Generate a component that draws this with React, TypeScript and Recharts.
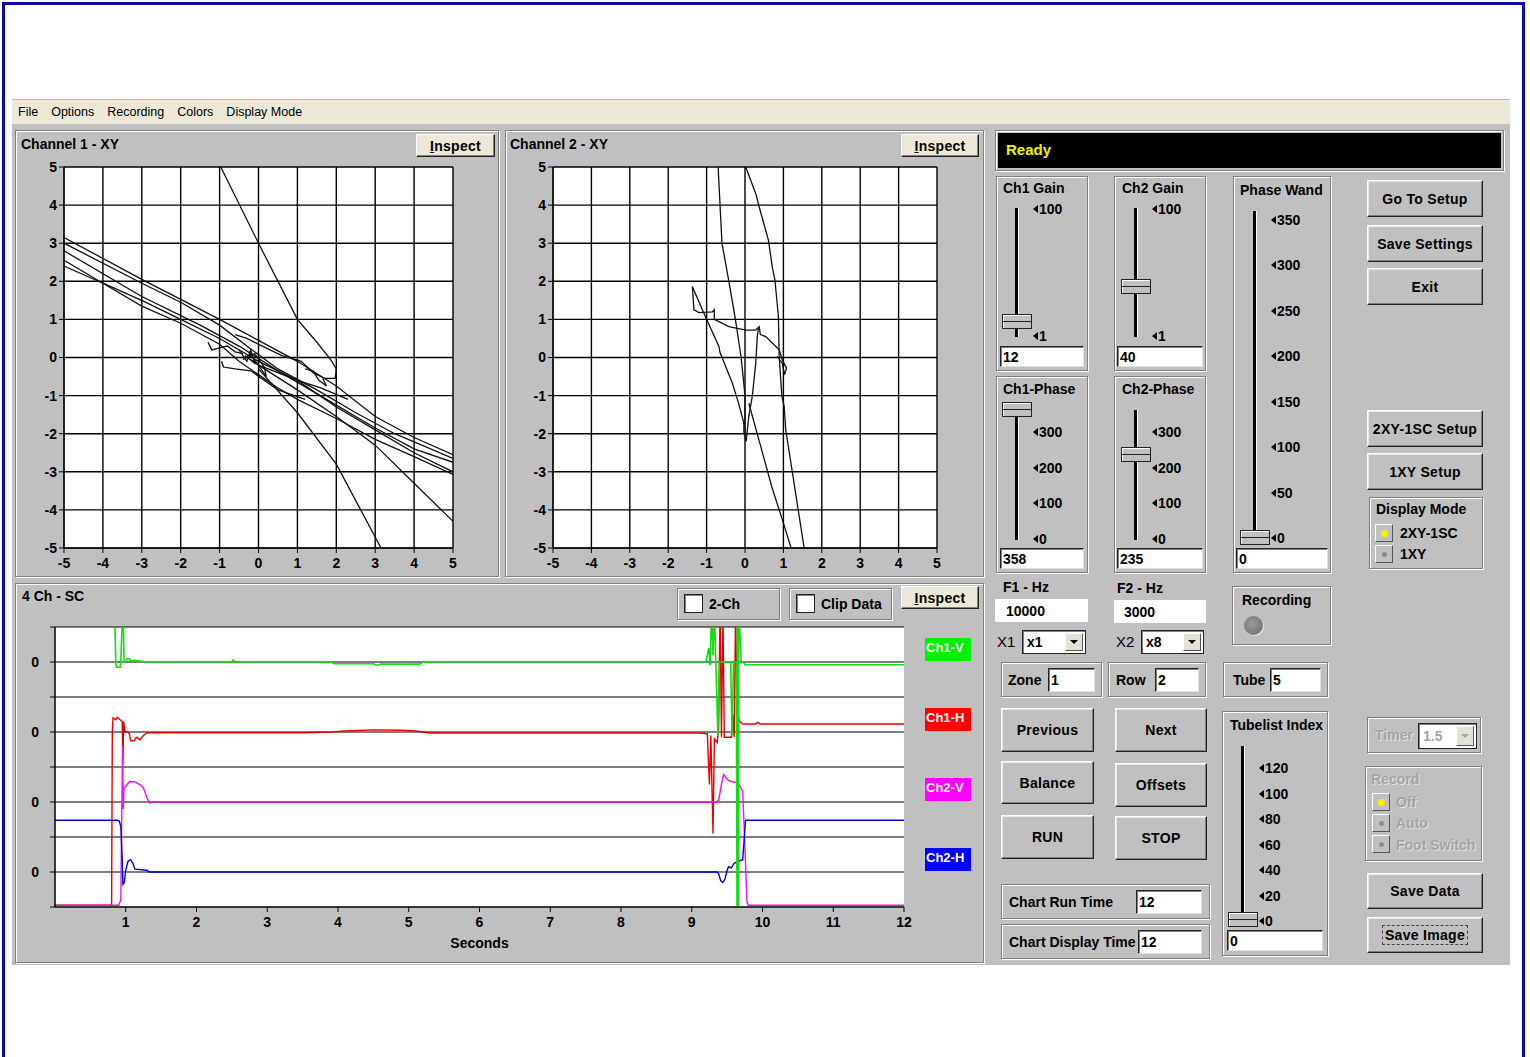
import React from 'react';
import { LineChart, Line, XAxis, YAxis, CartesianGrid, Label } from 'recharts';

// ---------- Channel 1 XY traces (x, y pairs in volts) ----------
const ch1Sweep = [[-0.97, 5], [0, 3], [1, 1], [1.5, 0.4], [1.85, -0.05], [2, -0.3], [1.97, -0.55], [1.7, -0.55], [1.4, -0.4], [1.1, -0.1], [0.6, 0.05], [0.1, 0.3], [-0.3, 0.5], [-0.6, 0.6]];
const ch1DiagA = [[-5, 3.15], [-3, 2.05], [-1, 1.0], [0, 0.45], [1, -0.1], [2, -0.75], [3, -1.55], [4, -2.1], [5, -2.55]];
const ch1DiagB = [[-5, 3.0], [-3, 1.95], [-2, 1.45], [-1, 0.85], [-0.3, 0.3], [0.5, -0.3], [1.5, -0.85], [2.5, -1.45], [3.5, -2.0], [5, -2.65]];
const ch1DiagC = [[-5, 2.8], [-3, 1.6], [-1.5, 0.85], [-0.5, 0.3], [0.5, -0.35], [2, -1.25], [3, -1.85], [4, -2.4], [5, -2.75]];
const ch1DiagD = [[-5, 2.55], [-4, 1.95], [-3, 1.5], [-2, 1.0], [-1, 0.5], [0, -0.1], [1, -0.6], [2, -1.3], [3, -1.9], [4, -2.5], [5, -3.0]];
const ch1DiagE = [[-5, 2.4], [-4, 1.95], [-3, 1.35], [-2, 0.9], [-1, 0.35], [-0.5, -0.1], [0, -0.45], [0.5, -0.8], [1, -1.1], [2, -1.6], [3, -2.15], [4, -2.6], [5, -3.07]];
const ch1SteepB = [[0, -0.3], [1, -1.45], [2, -2.8], [3.15, -5]];
const ch1SteepC = [[0, -0.2], [1, -0.85], [2, -1.55], [3, -2.3], [4, -3.3], [5, -4.3]];
const ch1Tail = [[0, -0.2], [1, -0.6], [1.6, -0.8], [2.3, -1.1]];
const ch1Knot = [[-0.5, 0.2], [-0.3, -0.1], [-0.2, 0.2], [-0.1, -0.15], [-0.35, 0.05], [0, -0.2], [-0.25, 0.15], [0.1, -0.35], [0.2, -0.5], [0.15, -0.25], [-0.1, 0.1], [-0.4, -0.05], [-0.2, 0.1]];
const ch1Hook = [[-1.3, 0.4], [-1.2, 0.2], [-1.0, 0.25], [-0.8, 0.3], [-0.6, 0.15], [-0.4, 0.1]];
const ch1Under = [[-0.95, -0.1], [-0.9, -0.25], [-0.6, -0.3], [-0.2, -0.35], [0.5, -0.85], [1.2, -1.1]];
const ch1Curl = [[1.2, -0.3], [1.4, -0.35], [1.55, -0.6], [1.75, -0.75], [1.65, -0.55]];

// ---------- Channel 2 XY traces ----------
const ch2DropA = [[-0.7, 5], [-0.6, 3], [-0.42, 2], [-0.25, 1], [-0.1, 0], [0, -1], [0, -2]];
const ch2DropB = [[0.1, -1.2], [0.4, -2.3], [0.7, -3.4], [0.97, -4.25], [1.2, -5]];
const ch2Arc = [[0.02, 5], [0.28, 4.3], [0.37, 3.95], [0.61, 3.08], [0.71, 2.38], [0.78, 2.03], [0.87, 1.07], [0.89, 0.03], [0.96, -1.02], [1.02, -1.28], [1.06, -1.89], [1.54, -5]];
const ch2Wander = [[-1.37, 1.86], [-1.33, 1.25], [-1.2, 1.18], [-0.85, 1.2], [-0.8, 1.25], [-0.8, 1.0], [-0.42, 0.81], [0.02, 0.72], [0.28, 0.72], [0.37, 0.81], [0.4, 0.6], [0.54, 0.55], [0.89, 0.2], [0.97, -0.06], [1.08, -0.28], [1.03, -0.45], [0.97, -0.15], [0.84, 0.03]];
const ch2Return = [[-1.37, 1.86], [-1.03, 1.07], [-0.68, 0.29], [-0.65, 0.13], [-0.33, -0.67], [-0.17, -1.19], [-0.03, -1.72], [-0.03, -1.98], [0.03, -2.2], [0.1, -1.54], [0.19, -1.02], [0.28, -0.15], [0.32, 0.55], [0.35, 0.77]];

const xyTicks = [-5, -4, -3, -2, -1, 0, 1, 2, 3, 4, 5];

// ---------- Strip chart, 4 channels: [seconds, value relative to channel zero] ----------
const ch1V = [[0, 1.5], [0.84, 1.5], [0.86, -0.05], [0.87, -0.15], [0.92, -0.15], [0.93, -0.02], [0.955, 1.5], [0.965, 1.5], [0.975, 0], [1.0, 0], [1.02, 0.1], [1.05, 0.1], [1.07, 0.03], [1.12, 0.05], [1.2, 0.03], [1.3, 0], [2.5, 0], [2.52, 0.06], [2.54, 0], [3.9, 0], [3.95, -0.05], [4.5, -0.05], [4.55, -0.1], [4.6, -0.06], [5.15, -0.06], [5.2, 0], [9.2, 0], [9.24, 0.4], [9.26, -0.1], [9.28, 1.5], [9.3, 0.2], [9.32, 1.5], [9.34, 0], [9.37, -2.1], [9.39, 0], [9.55, 0], [9.57, -2.1], [9.59, 0], [9.63, 0], [9.64, -7.5], [9.645, 1.5], [9.65, -7.5], [9.655, 1.5], [9.66, -7.5], [9.665, 1.5], [9.7, 0], [9.73, 0], [9.75, -0.08], [12, -0.08]];
const ch1H = [[0, -4.95], [0.8, -4.95], [0.81, 0], [0.82, 0.4], [0.86, 0.35], [0.88, 0.42], [0.92, 0.35], [0.95, 0.3], [0.96, -0.9], [0.97, 0.3], [0.99, 0], [1.03, 0], [1.05, -0.05], [1.07, -0.25], [1.12, -0.25], [1.15, -0.15], [1.2, -0.22], [1.25, -0.1], [1.3, -0.02], [2, -0.02], [3.5, -0.02], [3.9, 0], [4.1, 0.03], [4.5, 0.06], [4.9, 0.05], [5.1, 0.03], [5.3, -0.03], [9.1, -0.03], [9.22, -0.05], [9.25, -1.5], [9.27, -0.1], [9.3, -2.9], [9.32, -0.2], [9.36, -0.3], [9.38, 0.1], [9.4, 3.5], [9.42, -0.15], [9.44, 3.5], [9.46, -0.15], [9.56, -0.15], [9.58, 0.5], [9.6, -0.15], [9.62, 3.5], [9.64, 0.5], [9.68, 0.3], [9.72, 0.23], [9.9, 0.23], [9.93, 0.27], [9.97, 0.23], [12, 0.23]];
const ch2V = [[0, -2.95], [0.9, -2.95], [0.93, -2.8], [0.955, 1.6], [0.965, -0.2], [0.975, 0.4], [1.0, 0.45], [1.05, 0.58], [1.12, 0.58], [1.2, 0.5], [1.25, 0.4], [1.3, 0.12], [1.34, -0.03], [1.37, 0], [9.35, 0], [9.38, 0.05], [9.42, 0.5], [9.45, 0.78], [9.5, 0.65], [9.53, 0.6], [9.58, 0.58], [9.65, 0.55], [9.69, 0.42], [9.72, 0.3], [9.75, -1.2], [9.78, -2.85], [9.8, -2.95], [12, -2.95]];
const ch2H = [[0, 1.48], [0.88, 1.48], [0.91, 1.45], [0.93, 1.3], [0.95, 0.4], [0.96, -0.35], [0.98, -0.3], [1.0, 0.05], [1.03, 0.3], [1.07, 0.35], [1.1, 0.25], [1.13, 0.08], [1.3, 0.05], [1.33, 0], [9.36, 0], [9.38, -0.05], [9.41, -0.25], [9.44, -0.3], [9.47, -0.2], [9.5, 0.05], [9.52, 0.15], [9.56, 0.12], [9.6, 0.25], [9.65, 0.3], [9.72, 0.35], [9.74, 0.9], [9.76, 1.48], [12, 1.48]];

const channelNames = ['Ch1-V', 'Ch1-H', 'Ch2-V', 'Ch2-H'];
const channelColors = ['#12dd12', '#e80000', '#f010f0', '#0000d0'];
const legendColors = ['#00f000', '#ff0000', '#ff00ff', '#0000ff'];
const channelZero = [7, 5, 3, 1];
const channelTraces = [ch1V, ch1H, ch2V, ch2H];
const stripTicksX = [1, 2, 3, 4, 5, 6, 7, 8, 9, 10, 11, 12];
const stripTicksY = [0, 1, 2, 3, 4, 5, 6, 7, 8];

// slider scales
const gainScale = ['100', '1'];
const phaseScale = ['300', '200', '100', '0'];
const wandScale = ['350', '300', '250', '200', '150', '100', '50', '0'];
const tubeScale = ['120', '100', '80', '60', '40', '20', '0'];
const menuItems = ['File', 'Options', 'Recording', 'Colors', 'Display Mode'];

const FONT = '"Liberation Sans", Arial, sans-serif';
const GRAY = '#c0c0c0';
const DIM = '#a4a4a4';

const box = (x: number, y: number, x2: number, y2: number): React.CSSProperties => ({
  position: 'absolute', left: x, top: y, width: x2 - x, height: y2 - y, boxSizing: 'border-box',
});

const T = ({ x, y, children, size = 14, color = '#000', bold = true, dim = false }: any) => (
  <div style={{
    position: 'absolute', left: x, top: y - 9, height: 18, lineHeight: '18px', whiteSpace: 'nowrap',
    fontFamily: FONT, fontSize: size, fontWeight: bold ? 700 : 400, color: dim ? DIM : color,
    textShadow: dim ? '1px 1px 0 #e4e4e4' : undefined,
  }}>{children}</div>
);

const Groove = ({ r }: { r: number[] }) => (
  <div style={{ ...box(r[0], r[1], r[2], r[3]), border: '1px solid #808080', boxShadow: '1px 1px 0 #fff, inset 1px 1px 0 #fff' }} />
);

const Btn = ({ r, children, bg = GRAY, focus = false, size = 14 }: any) => (
  <div style={{
    ...box(r[0], r[1], r[2], r[3]), background: bg, borderStyle: 'solid', borderWidth: 1,
    borderColor: '#fff #222 #222 #fff', boxShadow: 'inset -1px -1px 0 #808080, inset 1px 1px 0 #e8e8e8',
    display: 'flex', alignItems: 'center', justifyContent: 'center',
    fontFamily: FONT, fontWeight: 700, fontSize: size, letterSpacing: 0.3,
  }}>
    {focus ? <span style={{ border: '1px dashed #444', padding: '1px 2px' }}>{children}</span> : children}
  </div>
);

const Field = ({ r, value, flat = false, pad = 2 }: any) => (
  <div style={{
    ...box(r[0], r[1], r[2], r[3]), background: '#fff', display: 'flex', alignItems: 'center', paddingLeft: pad,
    borderStyle: 'solid', borderWidth: flat ? 0 : 1, borderColor: '#222 #e0e0e0 #e0e0e0 #222',
    boxShadow: flat ? 'none' : 'inset 1px 1px 0 #808080',
    fontFamily: FONT, fontWeight: 700, fontSize: 14,
  }}>{value}</div>
);

const Combo = ({ r, value, dim = false }: any) => (
  <div style={{
    ...box(r[0], r[1], r[2], r[3]), background: '#fff', border: '1px solid #222',
    boxShadow: 'inset 1px 1px 0 #808080', fontFamily: FONT, fontWeight: 700, fontSize: 14,
    color: dim ? DIM : '#000', paddingLeft: 4, display: 'flex', alignItems: 'center',
  }}>
    {value}
    <div style={{
      position: 'absolute', right: 2, top: 2, bottom: 2, width: 16, background: '#e4e2d8',
      borderStyle: 'solid', borderWidth: 1, borderColor: '#fff #555 #555 #fff',
      display: 'flex', alignItems: 'center', justifyContent: 'center',
    }}>
      <div style={{ width: 0, height: 0, borderLeft: '4px solid transparent', borderRight: '4px solid transparent', borderTop: `4px solid ${dim ? DIM : '#000'}` }} />
    </div>
  </div>
);

const Mark = ({ x, y, label }: any) => (
  <>
    <div style={{ position: 'absolute', left: x - 1, top: y - 4, width: 0, height: 0, borderTop: '4px solid transparent', borderBottom: '4px solid transparent', borderRight: '5px solid #000' }} />
    <T x={x + 5} y={y}>{label}</T>
  </>
);

// vertical trackbar: centre x, track ends, thumb centre, scale labels spread between sy1 and sy2
const Slider = ({ cx, y1, y2, thumb, scale, tx, sy1, sy2 }: any) => (
  <>
    <div style={{ ...box(cx - 2, y1, cx + 2, y2), background: '#000', borderRight: '1px solid #fff' }} />
    <div style={{ ...box(cx - 15, thumb - 7, cx + 15, thumb + 8), background: GRAY, border: '1px solid #222', boxShadow: 'inset 1px 1px 0 #fff' }}>
      <div style={{ position: 'absolute', left: 0, right: 0, top: 6, height: 1, background: '#222' }} />
    </div>
    {scale.map((s: string, i: number) => (
      <Mark key={s} x={tx} y={sy1 + (scale.length > 1 ? (i * (sy2 - sy1)) / (scale.length - 1) : 0)} label={s} />
    ))}
  </>
);

const Radio = ({ x, y, on, dim = false }: any) => (
  <div style={{
    ...box(x, y, x + 18, y + 18), background: GRAY, borderStyle: 'solid', borderWidth: 1,
    borderColor: '#fff #555 #555 #fff', display: 'flex', alignItems: 'center', justifyContent: 'center',
  }}>
    <div style={{ width: on ? 7 : 5, height: on ? 7 : 5, borderRadius: '50%', background: on ? '#f4f400' : dim ? '#8c8c8c' : '#888' }} />
  </div>
);

const Check = ({ r, label }: any) => (
  <>
    <Groove r={r} />
    <div style={{ ...box(r[0] + 7, r[1] + 6, r[0] + 26, r[1] + 25), background: '#fff', border: '1px solid #222', boxShadow: 'inset 1px 1px 0 #808080' }} />
    <T x={r[0] + 32} y={r[1] + 16}>{label}</T>
  </>
);

const tickFont = { fill: '#000', fontSize: 14, fontWeight: 700, fontFamily: FONT };

const toXY = (pts: number[][]) => pts.map(([x, y]) => ({ x, y }));

const XYPlot = ({ left, width, traces }: { left: number; width: number; traces: number[][][] }) => (
  <div style={{ position: 'absolute', left, top: 160 }}>
    <LineChart width={width} height={416} margin={{ top: 7, right: 10, left: 6, bottom: 0 }}>
      <CartesianGrid stroke="#000" strokeWidth={1.4} fill="#fff" fillOpacity={1} />
      <XAxis type="number" dataKey="x" domain={[-5, 5]} ticks={xyTicks} interval={0} allowDataOverflow height={28}
        tick={tickFont} tickSize={5} tickMargin={5} axisLine={{ stroke: '#000' }} tickLine={{ stroke: '#000' }} />
      <YAxis type="number" dataKey="y" domain={[-5, 5]} ticks={xyTicks} interval={0} allowDataOverflow width={40}
        tick={tickFont} tickSize={5} tickMargin={2} axisLine={{ stroke: '#000' }} tickLine={{ stroke: '#000' }} />
      {traces.map((t, i) => (
        <Line key={i} data={toXY(t)} dataKey="y" type="linear" stroke="#111" strokeWidth={1.3}
          dot={false} activeDot={false} isAnimationActive={false} />
      ))}
    </LineChart>
  </div>
);

const StripChart = () => (
  <div style={{ position: 'absolute', left: 12, top: 620 }}>
    <LineChart width={900} height={332} margin={{ top: 7, right: 8, left: 7, bottom: 0 }}>
      <CartesianGrid stroke="#000" strokeWidth={1.2} vertical={false} fill="#fff" fillOpacity={1} />
      <XAxis type="number" dataKey="t" domain={[0, 12]} ticks={stripTicksX} interval={0} allowDataOverflow height={45}
        tick={tickFont} tickSize={5} tickMargin={5} axisLine={{ stroke: '#000' }} tickLine={{ stroke: '#000' }}>
        <Label value="Seconds" position="insideBottom" offset={4} style={{ fontFamily: FONT, fontWeight: 700, fontSize: 14, fill: '#000' }} />
      </XAxis>
      <YAxis type="number" dataKey="v" domain={[0, 8]} ticks={stripTicksY} interval={0} allowDataOverflow width={36}
        tick={tickFont} tickSize={5} tickMargin={11} tickFormatter={(v: number) => (v % 2 === 1 ? '0' : '')}
        axisLine={{ stroke: '#000', strokeWidth: 1.5 }} tickLine={{ stroke: '#000' }} />
      {[1, 2, 3, 0].map((k) => (
        <Line key={channelNames[k]} data={channelTraces[k].map(([t, v]) => ({ t, v: v + channelZero[k] }))}
          dataKey="v" type="linear" stroke={channelColors[k]} strokeWidth={k === 0 ? 1.6 : 1.4}
          dot={false} activeDot={false} isAnimationActive={false} />
      ))}
    </LineChart>
  </div>
);

export default function App() {
  return (
    <div style={{ position: 'absolute', left: 0, top: 0, width: 1530, height: 1057, background: '#fff', overflow: 'hidden', fontFamily: FONT }}>
      <div style={{ ...box(2, 2, 1525, 1070), border: '3px solid #0a0aa6' }} />

      {/* menu bar */}
      <div style={{ ...box(12, 99, 1510, 124), background: '#ece9d8', borderTop: '1px solid #a9bcd6', display: 'flex', alignItems: 'center', paddingLeft: 6, gap: 13, fontSize: 12.5 }}>
        {menuItems.map((m) => <span key={m}>{m}</span>)}
      </div>
      <div style={{ ...box(12, 124, 1510, 965), background: GRAY }} />

      {/* XY panels */}
      <Groove r={[15, 130, 499, 577]} />
      <T x={21} y={144}>Channel 1 - XY</T>
      <Btn r={[416, 134, 495, 157]} bg="#ece9d8"><span><u>I</u>nspect</span></Btn>
      <XYPlot left={18} width={445} traces={[ch1Sweep, ch1DiagA, ch1DiagB, ch1DiagC, ch1DiagD, ch1DiagE, ch1SteepB, ch1SteepC, ch1Tail, ch1Knot, ch1Hook, ch1Under, ch1Curl]} />

      <Groove r={[505, 130, 984, 577]} />
      <T x={510} y={144}>Channel 2 - XY</T>
      <Btn r={[901, 134, 979, 157]} bg="#ece9d8"><span><u>I</u>nspect</span></Btn>
      <XYPlot left={507} width={440} traces={[ch2DropA, ch2DropB, ch2Arc, ch2Wander, ch2Return]} />

      {/* strip chart panel */}
      <Groove r={[15, 583, 984, 963]} />
      <T x={22} y={596}>4 Ch - SC</T>
      <Check r={[677, 588, 780, 620]} label="2-Ch" />
      <Check r={[789, 588, 892, 620]} label="Clip Data" />
      <Btn r={[901, 586, 979, 609]} bg="#ece9d8"><span><u>I</u>nspect</span></Btn>
      <StripChart />
      {channelNames.map((n, i) => (
        <div key={n} style={{ ...box(925, 638 + i * 70, 971, 661 + i * 70), background: legendColors[i], color: '#fff', fontFamily: FONT, fontWeight: 700, fontSize: 13, paddingLeft: 1, lineHeight: '20px' }}>{n}</div>
      ))}

      {/* status bar */}
      <Groove r={[995, 130, 1504, 171]} />
      <div style={{ ...box(998, 133, 1501, 168), background: '#000' }} />
      <T x={1006} y={150} size={15} color="#f0f000">Ready</T>

      {/* gain / phase trackbars */}
      <Groove r={[996, 176, 1088, 371]} />
      <T x={1003} y={188}>Ch1 Gain</T>
      <Slider cx={1017} y1={208} y2={337} thumb={321} scale={gainScale} tx={1034} sy1={209} sy2={336} />
      <Field r={[1000, 346, 1084, 367]} value="12" />

      <Groove r={[1114, 176, 1206, 371]} />
      <T x={1122} y={188}>Ch2 Gain</T>
      <Slider cx={1136} y1={208} y2={337} thumb={286} scale={gainScale} tx={1153} sy1={209} sy2={336} />
      <Field r={[1117, 346, 1203, 367]} value="40" />

      <Groove r={[996, 376, 1088, 573]} />
      <T x={1003} y={389}>Ch1-Phase</T>
      <Slider cx={1017} y1={405} y2={540} thumb={409} scale={phaseScale} tx={1034} sy1={432} sy2={539} />
      <Field r={[1000, 548, 1084, 569]} value="358" />

      <Groove r={[1114, 376, 1206, 573]} />
      <T x={1122} y={389}>Ch2-Phase</T>
      <Slider cx={1136} y1={410} y2={540} thumb={454} scale={phaseScale} tx={1153} sy1={432} sy2={539} />
      <Field r={[1117, 548, 1203, 569]} value="235" />

      <Groove r={[1233, 176, 1331, 573]} />
      <T x={1240} y={190}>Phase Wand</T>
      <Slider cx={1255} y1={211} y2={541} thumb={537} scale={wandScale} tx={1272} sy1={220} sy2={538} />
      <Field r={[1236, 548, 1328, 569]} value="0" />

      {/* command buttons */}
      <Btn r={[1367, 180, 1483, 217]}>Go To Setup</Btn>
      <Btn r={[1367, 225, 1483, 262]}>Save Settings</Btn>
      <Btn r={[1367, 268, 1483, 305]}>Exit</Btn>
      <Btn r={[1367, 410, 1483, 447]}>2XY-1SC Setup</Btn>
      <Btn r={[1367, 453, 1483, 490]}>1XY Setup</Btn>

      <Groove r={[1369, 497, 1483, 569]} />
      <T x={1376} y={509}>Display Mode</T>
      <Radio x={1375} y={524} on />
      <T x={1400} y={533}>2XY-1SC</T>
      <Radio x={1375} y={545} on={false} />
      <T x={1400} y={554}>1XY</T>

      {/* frequency section */}
      <T x={1003} y={587}>F1 - Hz</T>
      <Field r={[995, 599, 1088, 622]} value="10000" flat pad={11} />
      <T x={1117} y={588}>F2 - Hz</T>
      <Field r={[1114, 600, 1206, 623]} value="3000" flat pad={10} />
      <T x={997} y={642} bold={false} size={15}>X1</T>
      <Combo r={[1022, 630, 1086, 654]} value="x1" />
      <T x={1116} y={642} bold={false} size={15}>X2</T>
      <Combo r={[1141, 630, 1204, 654]} value="x8" />

      <Groove r={[1232, 586, 1331, 645]} />
      <T x={1242} y={600}>Recording</T>
      <div style={{ ...box(1244, 616, 1263, 635), borderRadius: '50%', background: 'radial-gradient(circle at 40% 40%, #9a9a9a, #6e6e6e)', border: '1px solid #808080', boxShadow: '1px 1px 0 #e6e6e6' }} />

      <Groove r={[1001, 662, 1102, 697]} />
      <T x={1008} y={680}>Zone</T>
      <Field r={[1048, 668, 1095, 692]} value="1" />
      <Groove r={[1108, 662, 1206, 697]} />
      <T x={1116} y={680}>Row</T>
      <Field r={[1155, 668, 1199, 692]} value="2" />
      <Groove r={[1223, 662, 1328, 697]} />
      <T x={1233} y={680}>Tube</T>
      <Field r={[1270, 668, 1321, 692]} value="5" />

      <Btn r={[1001, 708, 1094, 752]}>Previous</Btn>
      <Btn r={[1115, 708, 1207, 752]}>Next</Btn>
      <Btn r={[1001, 761, 1094, 804]}>Balance</Btn>
      <Btn r={[1115, 763, 1207, 807]}>Offsets</Btn>
      <Btn r={[1001, 815, 1094, 859]}>RUN</Btn>
      <Btn r={[1115, 816, 1207, 860]}>STOP</Btn>

      <Groove r={[1222, 711, 1328, 956]} />
      <T x={1230} y={725}>Tubelist Index</T>
      <Slider cx={1243} y1={746} y2={920} thumb={919} scale={tubeScale} tx={1260} sy1={768} sy2={921} />
      <Field r={[1227, 930, 1323, 951]} value="0" />

      <Groove r={[1001, 884, 1210, 919]} />
      <T x={1009} y={902}>Chart Run Time</T>
      <Field r={[1136, 890, 1202, 914]} value="12" />
      <Groove r={[1001, 924, 1210, 959]} />
      <T x={1009} y={942}>Chart Display Time</T>
      <Field r={[1138, 930, 1202, 954]} value="12" />

      {/* disabled recording options */}
      <Groove r={[1367, 717, 1481, 753]} />
      <T x={1375} y={735} dim>Timer</T>
      <Combo r={[1418, 723, 1477, 749]} value="1.5" dim />
      <Groove r={[1365, 766, 1482, 861]} />
      <T x={1371} y={779} dim>Record</T>
      <Radio x={1372} y={793} on dim />
      <T x={1396} y={802} dim>Off</T>
      <Radio x={1372} y={814} on={false} dim />
      <T x={1396} y={823} dim>Auto</T>
      <Radio x={1372} y={835} on={false} dim />
      <T x={1396} y={845} dim>Foot Switch</T>

      <Btn r={[1367, 873, 1483, 909]}>Save Data</Btn>
      <Btn r={[1367, 917, 1483, 953]} focus>Save Image</Btn>
    </div>
  );
}
